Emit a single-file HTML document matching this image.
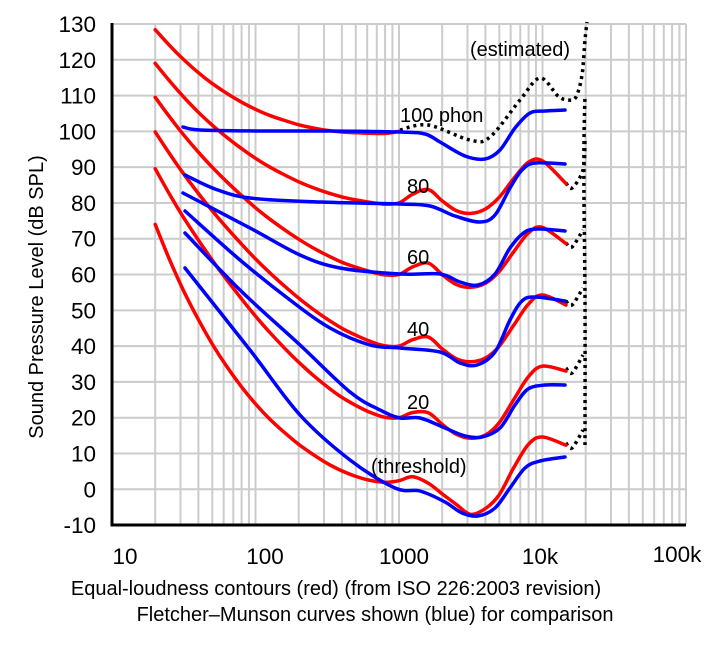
<!DOCTYPE html>
<html><head><meta charset="utf-8">
<style>
html,body{margin:0;padding:0;background:#fff;}
svg{display:block;font-family:"Liberation Sans",sans-serif;}
</style></head>
<body>
<svg id="s" width="720" height="645" viewBox="0 0 720 645" xmlns="http://www.w3.org/2000/svg">
<g id="grid" stroke="#cccccc" stroke-width="2" fill="none"></g>
<g id="curves" fill="none" stroke-linejoin="round" stroke-linecap="round"></g>
<line x1="112" y1="23" x2="112" y2="526" stroke="#000" stroke-width="3"/>
<line x1="110.5" y1="525" x2="686" y2="525" stroke="#000" stroke-width="3"/>
<g font-size="22.5" fill="#000" text-anchor="end" id="yl"></g>
<g font-size="22.5" fill="#000" text-anchor="middle">
<text x="125" y="564">10</text>
<text x="265" y="564">100</text>
<text x="404" y="564">1000</text>
<text x="540" y="564">10k</text>
<text x="677" y="562">100k</text>
</g>
<text transform="translate(43,297) rotate(-90)" font-size="20" text-anchor="middle">Sound Pressure Level (dB SPL)</text>
<text x="336" y="595" font-size="20" text-anchor="middle">Equal-loudness contours (red) (from ISO 226:2003 revision)</text>
<text x="375" y="621" font-size="20" text-anchor="middle">Fletcher–Munson curves shown (blue) for comparison</text>
<g font-size="20" fill="#000">
<text x="400" y="122">100 phon</text>
<text x="407" y="193">80</text>
<text x="407" y="264">60</text>
<text x="407" y="336">40</text>
<text x="407" y="409">20</text>
<text x="371" y="473">(threshold)</text>
<text x="470" y="56">(estimated)</text>
</g>
</svg>
<script>
var NS="http://www.w3.org/2000/svg";
function X(f){return 112+143.5*Math.log10(f/10);}
function Y(v){return 24+(130-v)*3.579;}
var g=document.getElementById('grid');
function ln(p,x1,y1,x2,y2){var l=document.createElementNS(NS,'line');l.setAttribute('x1',x1);l.setAttribute('y1',y1);l.setAttribute('x2',x2);l.setAttribute('y2',y2);p.appendChild(l);}
for(var d=10;d<100000;d*=10){for(var k=1;k<=10;k++){var x=X(d*k);if(x>112.5)ln(g,x,24,x,524);}}
for(var v=0;v<=130;v+=10){ln(g,112,Y(v),686,Y(v));}
var yl=document.getElementById('yl');
for(var v=-10;v<=130;v+=10){var t=document.createElementNS(NS,'text');t.setAttribute('x',96);t.setAttribute('y',Y(v)+8);t.textContent=v;yl.appendChild(t);}
function path(pts){var s='M'+pts[0][0].toFixed(1)+','+pts[0][1].toFixed(1);
for(var i=0;i<pts.length-1;i++){var p0=pts[i>0?i-1:i],p1=pts[i],p2=pts[i+1],p3=pts[i+2<pts.length?i+2:i+1];
s+=' C'+(p1[0]+(p2[0]-p0[0])/6).toFixed(1)+','+(p1[1]+(p2[1]-p0[1])/6).toFixed(1)+' '+(p2[0]-(p3[0]-p1[0])/6).toFixed(1)+','+(p2[1]-(p3[1]-p1[1])/6).toFixed(1)+' '+p2[0].toFixed(1)+','+p2[1].toFixed(1);}
return s;}
var C=document.getElementById('curves');
function draw(pts,col,w,dash){var p=document.createElementNS(NS,'path');p.setAttribute('d',path(pts));p.setAttribute('stroke',col);p.setAttribute('stroke-width',w);if(dash){p.setAttribute('stroke-dasharray',dash);p.setAttribute('stroke-linecap','butt');}C.appendChild(p);}
var f=[20,25,31.5,40,50,63,80,100,125,160,200,250,315,400,500,630,800,1000,1250,1600,2000,2500,3150,4000,5000,6300,8000,10000,12500];
var af=[0.532,0.506,0.480,0.455,0.432,0.409,0.387,0.367,0.349,0.330,0.315,0.301,0.288,0.276,0.267,0.259,0.253,0.250,0.246,0.244,0.243,0.243,0.243,0.242,0.242,0.245,0.254,0.271,0.301];
var Lu=[-31.6,-27.2,-23.0,-19.1,-15.9,-13.0,-10.3,-8.1,-6.2,-4.5,-3.1,-2.0,-1.1,-0.4,0.0,0.3,0.5,0.0,-2.7,-4.1,-1.0,1.7,2.5,1.2,-2.1,-7.1,-11.2,-10.7,-3.1];
var Tf=[78.5,68.7,59.5,51.1,44.0,37.5,31.5,26.5,22.1,17.9,14.4,11.4,8.6,6.2,4.4,3.0,2.2,2.4,3.5,1.7,-1.3,-4.2,-6.0,-5.4,-1.5,6.0,12.6,13.9,12.3];
var dot='3 4';
draw([[400,130],[428,125],[470,140],[490,137],[520,100],[540,78],[558,96],[568,100],[576,97],[582,75],[585,40],[587,22]],'#000',3.5,dot);
[[243,247,230],[301,305,288],[368,373,355],[443,448,430]].forEach(function(h){draw([[566,h[0]],[572,h[1]],[583,h[2]]],'#000',3.5,dot);});
draw([[566,183],[572,188],[583,170],[585,140]],'#000',3.5,dot);
draw([[585,445],[585,300],[584,200],[584,140],[585,95]],'#000',3.5,dot);
// red
[20,40,60,80,100].forEach(function(ph){var pts=[];for(var i=0;i<f.length;i++){
var Af=4.47e-3*(Math.pow(10,0.025*ph)-1.15)+Math.pow(0.4*Math.pow(10,(Tf[i]+Lu[i])/10-9),af[i]);
var Lp=10/af[i]*Math.log10(Af)-Lu[i]+94;
var x=(i==f.length-1)?566:X(f[i]);pts.push([x,Y(Lp)]);}
if(ph==100)pts=pts.slice(0,18);
draw(pts,'#ff0000',3.5);});
(function(){var pts=[];for(var i=0;i<f.length;i++){var v=Tf[i]-4.5*Math.max(0,1-Math.log10(f[i]/20)/1.7);if(i==22)v-=1;if(i==27)v+=0.7;var x=(i==f.length-1)?566:X(f[i]);pts.push([x,Y(v)]);}draw(pts,'#ff0000',3.5);})();
// blue
var B=[
[[183,127],[200,130],[260,131],[330,131],[400,132],[425,134],[440,142],[465,156],[485,159],[500,150],[515,128],[530,113],[545,111],[565,110]],
[[185,175],[215,189],[250,198],[320,202],[400,204],[430,206],[455,216],[480,222],[495,215],[510,188],[522,170],[535,163],[565,164]],
[[183,193],[250,228],[300,255],[340,268],[400,274],[440,274],[460,282],[478,285],[495,274],[510,248],[525,232],[540,229],[565,231]],
[[185,211],[240,260],[290,300],[330,328],[370,345],[400,348],[440,352],[460,363],[477,365],[495,352],[510,320],[522,301],[535,297],[565,301]],
[[185,233],[240,290],[300,345],[350,392],[380,410],[400,418],[420,418],[445,428],[465,436],[482,437],[500,428],[515,405],[528,389],[545,385],[565,385]],
[[185,268],[250,350],[300,415],[350,460],[395,488],[420,491],[445,502],[462,513],[478,516],[495,508],[510,488],[525,468],[540,461],[565,457]]];
B.forEach(function(p){draw(p,'#0000ff',3.5);});
</script>
</body></html>
